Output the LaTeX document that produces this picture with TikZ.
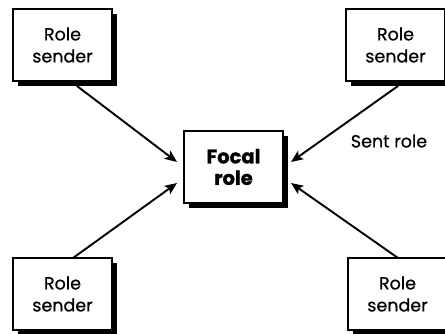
\documentclass[tikz,border=0pt]{standalone}
\usepackage{fontspec}
\setmainfont{Poppins}[FakeBold=0.6]
\newfontfamily\focalfont{Poppins}[FakeBold=1.2]
\usetikzlibrary{arrows.meta,shadows}
\tikzset{
  rolebox/.style={draw=black, line width=2.2pt, fill=white, minimum width=99pt, minimum height=72pt,
    inner sep=0pt, outer sep=0pt, align=center, font=\fontsize{17.5}{22}\selectfont,
    drop shadow={shadow xshift=5pt, shadow yshift=-5pt, fill=black, opacity=1}},
  focalbox/.style={rolebox, font=\fontsize{19.5}{21.5}\selectfont\focalfont\bfseries},
  arr/.style={line width=1.9pt, -{Stealth[length=12pt,width=10pt,inset=2.5pt]}},
  lbl/.style={font=\fontsize{17.5}{20}\selectfont, inner sep=0pt}
}
\begin{document}
\begin{tikzpicture}[x=1pt,y=-1pt]
\useasboundingbox (0,0) rectangle (445,334);
\node[rolebox] (TL) at (62.5,45) {Role\\sender};
\node[rolebox] (TR) at (395.5,45) {Role\\sender};
\node[rolebox] (BL) at (62.5,294) {Role\\sender};
\node[rolebox] (BR) at (397.5,294) {Role\\sender};
\node[focalbox] (F) at (233.5,167) {Focal\\role};
\node[lbl] (S) at (389,141) {Sent role};
\draw[arr] ([shift={(14.5pt,-5pt)}]TL.south) -- ([shift={(-7pt,5pt)}]F.west);
\draw[arr] ([shift={(10.5pt,0pt)}]BL.north) -- ([shift={(-7pt,-16pt)}]F.west);
\draw[arr] ([shift={(2.5pt,-5pt)}]TR.south) -- ([shift={(8pt,5pt)}]F.east);
\draw[arr] ([shift={(0.5pt,0pt)}]BR.north) -- ([shift={(8pt,-16pt)}]F.east);
\end{tikzpicture}
\end{document}
